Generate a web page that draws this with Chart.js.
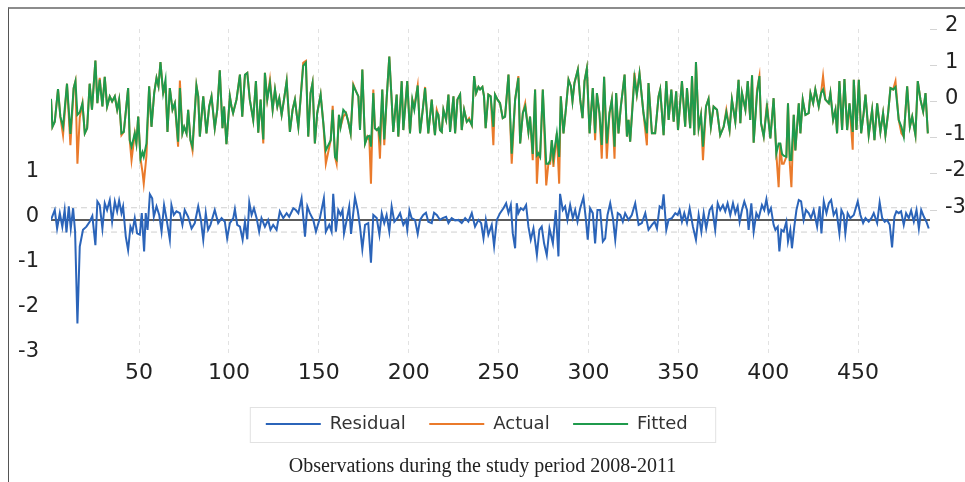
<!DOCTYPE html>
<html>
<head>
<meta charset="utf-8">
<script src="https://cdn.jsdelivr.net/npm/chart.js@4.4.0/dist/chart.umd.min.js"></script>
<style>
  html, body { margin: 0; padding: 0; background: #fff; }
  #wrap { position: relative; width: 965px; height: 482px; overflow: hidden; }
  #frame { position: absolute; left: 8px; top: 7px; width: 990px; height: 500px;
           border-left: 1.5px solid #555; border-top: 2px solid #8c8c8c; pointer-events: none; }
  #caption { position: absolute; left: 0; top: 454px; width: 965px; text-align: center;
             font-family: "Liberation Serif", "Times New Roman", serif; font-size: 20px; color: #222; }
</style>
</head>
<body>
<div id="wrap">
  <canvas id="chart" width="965" height="482"></canvas>
  <div id="frame"></div>
  <div id="caption">Observations during the study period 2008-2011</div>
</div>
<script>
const obsFit = [
  1, 1.8, 3.1, 4.9, 6.2, 7.7, 9.9, 11.8, 13.6, 14.6, 15.7, 17, 18.5, 19.8, 21.1, 22.5, 23.8, 25.7, 26.8, 28.1,
  29.6, 30.9, 32.2, 33.7, 35, 36.5, 37.8, 38.9, 40.2, 41.5, 43.9, 44.8, 45.8, 47.6, 48.5, 49.5, 50.8, 51.9, 52.6, 54.1,
  55.6, 56.9, 58.4, 59.7, 60.8, 61.9, 63.4, 64.7, 65.8, 67.1, 68.6, 69.9, 71.7, 72.7, 74.1, 75.1, 76.4, 77.3, 78.6, 79.7,
  81.9, 82.9, 83.8, 85.7, 87.5, 89, 90.3, 92.1, 93.5, 94.9, 96.4, 97.3, 98.6, 100.5, 101.4, 102.3, 104.2, 106.1, 107.4, 108.9,
  110.2, 111.6, 113.5, 115, 116.3, 117.6, 119.1, 120, 121.3, 122.8, 124.3, 125.6, 126.9, 128, 129.3, 130.6, 132.1, 133, 133.9, 135.4,
  136.7, 137.6, 138.6, 139.8, 141.3, 142.8, 144.1, 145.4, 146.5, 147.8, 149.1, 151, 152.5, 153.9, 156.6, 157.7, 159, 159.9, 161.2, 162.1,
  163.6, 165.1, 166.4, 167.7, 169.2, 170.7, 172, 172.9, 174.2, 175.7, 177, 178.1, 179, 180.3, 181.2, 182.2, 183.1, 184, 185.3, 186.4,
  187.7, 189.2, 190.5, 191.4, 193.3, 194.2, 196.1, 197, 199.2, 200.7, 202, 203.1, 205, 206.3, 207.8, 209.1, 210, 210.9, 212.8, 213.7,
  214.6, 215.6, 216.5, 217.4, 218.4, 219.3, 220.8, 222.1, 223, 224.9, 225.8, 227.1, 228.6, 229.5, 230.8, 232.3, 233.6, 235.1, 236.4, 237.5,
  238.8, 239.7, 241, 241.9, 242.8, 244.3, 245.6, 247.1, 248, 249.4, 250.8, 252.3, 253.6, 255.5, 257.3, 259.2, 261, 262, 263.5, 264.8,
  266.6, 267.5, 269, 270.3, 271.3, 272.2, 273.1, 274.6, 276.5, 277.7, 278.7, 279.6, 280.5, 282.4, 283.7, 284.6, 286.1, 287.4, 288.9, 290.2,
  291.1, 292.2, 294.1, 295.4, 296.7, 297.8, 299.1, 300.6, 302.4, 303.7, 304.7, 306.1, 307.4, 308.7, 310.2, 311.7, 313, 314.5, 315.4, 316.7,
  318, 320.1, 321.4, 322.3, 323.2, 325.6, 326.9, 328.4, 330.6, 332.5, 333.4, 335.3, 337.1, 339, 339.9, 341.8, 343.3, 344.6, 346.1, 347.4,
  348.8, 349.8, 352, 353.8, 354.8, 356.6, 357.6, 358.9, 359.8, 361.3, 362.6, 363.7, 365.4, 366.8, 368.1, 369.6, 371.5, 373.3, 375.2, 376.7,
  378.5, 379.8, 381.7, 383.5, 384.5, 385.4, 387.3, 388.6, 390, 391, 391.9, 393.8, 395.1, 396, 397.5, 399.3, 401.2, 403, 404.5, 405.8,
  406.7, 407.7, 408.6, 410.1, 411, 412, 412.9, 414.2, 415.1, 417, 417.9, 419.2, 420.7, 422.5, 423.5, 425, 426.2, 428.1, 429.4, 430.5,
  431.8, 433.7, 434.6, 436.1, 437.4, 438.3, 439.6, 441.1, 442.4, 443.9, 445.2, 447, 447.6, 449.1, 450.4, 451.7, 453.1, 454.1, 455.9, 457.8,
  459.1, 460.6, 462.4, 463.9, 465.2, 466.7, 468, 469.5, 470.8, 472.6, 474.1, 475.4, 477.3, 478.8, 480.1, 481.9, 483.2, 484.7, 486.2, 487.5,
  488.8
];

const actual = [
  0.07, -0.70, -0.56, 0.34, -0.42, -0.93, 0.49, -1.21, 0.37, 0.56, -1.72, -0.45, -0.05, -0.88, -0.74, 0.49, -0.23, 1.13, -0.05, 0.65,
  -0.14, 0.68, -0.14, 0.14, 0.00, 0.14, -0.23, 0.05, -0.93, -0.84, 0.37, -1.07, -1.62, -0.88, -1.16, -0.42, -1.58, -1.95, -2.27, -1.50,
  0.42, -0.70, 0.23, 0.65, 0.42, 1.09, 0.23, 0.37, -0.84, 0.37, -0.23, -0.05, -1.25, 0.58, -0.88, -0.70, -0.88, -0.23, -1.07, -1.35,
  0.44, 0.14, -0.97, 0.14, -0.88, -0.14, 0.14, -0.74, -0.23, 0.86, -0.74, -0.14, -1.18, 0.14, -0.14, -0.32, 0.05, 0.74, -0.42, 0.74,
  0.79, 0.05, -0.51, 0.56, -0.86, 0.05, -1.16, 0.79, 0.05, 0.60, -0.23, 0.33, -0.14, 0.09, -0.37, 0.05, 0.56, -0.14, -0.84, -0.23,
  0.05, -0.32, -0.70, 0.05, 1.07, 1.12, -0.97, 0.23, 0.51, -1.16, -0.32, 0.19, -0.60, -1.72, -1.07, -0.12, -1.53, -1.72, -0.37, -0.70,
  -0.42, -0.32, -0.56, -0.88, 0.47, 0.28, 0.14, -0.79, 0.88, -1.16, -0.97, -1.07, -2.27, 0.33, -0.74, -0.79, -0.74, -1.58, 0.33, -1.21,
  0.05, 1.24, 0.05, -0.84, 0.19, -0.97, 0.56, -0.79, 0.56, -0.88, 0.05, -0.14, 0.44, -0.88, -0.23, 0.40, -0.23, -0.88, 0.05, -0.51,
  -0.93, -0.23, -0.37, -0.79, -0.84, -0.23, -0.51, 0.19, -0.84, 0.14, -0.88, 0.05, 0.19, -0.79, -0.23, -0.56, -0.46, -0.65, 0.70, 0.23,
  0.40, 0.33, 0.40, 0.14, -0.74, 0.19, 0.14, -1.21, 0.19, 0.05, -0.05, -0.46, -0.42, 0.74, -1.72, 0.05, 0.70, -1.16, -0.32, -0.05,
  -0.84, -0.42, -1.62, 0.33, -2.27, -1.44, -1.53, 0.33, -2.32, -1.72, -1.72, -1.07, -1.81, -0.88, -2.27, 0.14, -0.88, -0.23, 0.60, 0.42,
  0.00, 0.51, 0.88, 0.05, -0.46, 0.56, 0.91, -0.88, 0.37, -1.07, 0.23, -0.32, -1.58, 0.68, -1.58, -0.32, 0.05, -1.58, 0.23, -0.88,
  -0.14, 0.74, -0.97, -0.51, -1.11, 0.79, 0.19, 0.77, -0.32, -1.21, 0.51, -0.88, -0.88, 0.14, 0.33, -0.93, 0.56, -0.51, 0.33, -0.56,
  0.28, -0.79, 0.56, -0.70, 0.37, -0.74, 0.70, -0.93, 1.09, -0.74, -0.37, -1.62, -0.14, 0.07, -0.70, -0.14, -0.23, -0.93, -0.70, -0.23,
  -0.79, 0.05, -0.56, 0.60, -0.60, 0.23, -0.23, 0.56, -0.51, 0.72, -1.14, 0.33, 0.70, -0.60, -0.97, -0.05, -1.02, 0.09, -1.44, -2.37,
  -1.16, -1.72, -1.72, -1.53, -0.05, -1.72, -2.37, -0.37, -1.35, -0.05, -0.88, 0.05, -0.37, -0.32, 0.23, -0.05, 0.33, -0.14, 0.23, 0.70,
  0.05, -0.05, 0.23, -0.51, -0.23, -0.88, 0.56, -0.79, 0.62, -0.79, -0.05, -1.33, 0.60, -0.79, 0.60, -0.88, -0.32, 0.19, -0.93, -0.23,
  -1.07, -0.05, -0.84, -0.32, -0.93, -0.32, 0.37, 0.33, 0.56, -0.51, -0.88, -0.97, 0.42, -0.70, -0.42, -0.93, 0.56, 0.05, -0.28, 0.23,
  -0.88
];

const fitted = [
  0.07, -0.70, -0.56, 0.34, -0.42, -0.70, 0.49, -0.90, 0.37, 0.56, -0.37, -0.30, -0.05, -0.88, -0.74, 0.49, -0.23, 1.13, -0.05, 0.60,
  -0.14, 0.68, -0.14, 0.14, 0.00, 0.14, -0.23, 0.05, -0.88, -0.84, 0.37, -1.07, -1.25, -0.88, -1.16, -0.42, -1.58, -1.40, -1.53, -1.16,
  0.42, -0.70, 0.23, 0.65, 0.42, 1.09, 0.23, 0.60, -0.84, 0.37, -0.23, -0.05, -1.11, 0.37, -0.88, -0.70, -0.88, -0.23, -1.07, -1.25,
  0.44, 0.14, -0.97, 0.14, -0.88, -0.14, 0.14, -0.74, -0.23, 0.86, -0.74, -0.14, -1.18, 0.14, -0.14, -0.32, 0.05, 0.74, -0.42, 0.74,
  0.79, 0.05, -0.51, 0.56, -0.86, 0.05, -1.05, 0.79, 0.05, 0.51, -0.23, 0.33, -0.14, 0.09, -0.37, 0.05, 0.56, -0.14, -0.84, -0.23,
  0.05, -0.32, -0.70, 0.05, 0.98, 1.07, -0.97, 0.23, 0.51, -1.16, -0.32, 0.19, -0.60, -1.35, -1.07, -0.23, -1.53, -1.60, -0.37, -0.70,
  -0.23, -0.32, -0.56, -0.88, 0.44, 0.28, 0.14, -0.79, 0.88, -1.16, -0.97, -0.95, -1.25, 0.23, -0.74, -0.79, -0.74, -1.00, 0.33, -1.05,
  0.05, 1.24, 0.05, -0.84, 0.19, -0.97, 0.56, -0.79, 0.56, -0.88, 0.05, -0.23, 0.44, -0.88, -0.23, 0.37, -0.23, -0.88, 0.05, -0.51,
  -0.93, -0.30, -0.37, -0.79, -0.84, -0.23, -0.51, 0.19, -0.84, 0.14, -0.88, 0.05, 0.19, -0.79, -0.23, -0.56, -0.50, -0.65, 0.70, 0.23,
  0.40, 0.33, 0.40, 0.14, -0.74, 0.19, 0.14, -0.70, 0.19, 0.05, -0.05, -0.46, -0.42, 0.74, -1.44, 0.05, 0.65, -1.16, -0.32, -0.14,
  -0.84, -0.42, -1.45, 0.33, -1.49, -1.44, -1.53, 0.33, -1.72, -1.72, -1.62, -1.07, -1.55, -0.88, -1.53, 0.14, -0.88, -0.23, 0.60, 0.42,
  0.00, 0.51, 0.88, 0.05, -0.46, 0.56, 0.91, -0.88, 0.37, -0.88, 0.23, -0.32, -1.20, 0.68, -1.16, -0.32, 0.05, -1.25, 0.23, -0.88,
  -0.14, 0.74, -0.97, -0.51, -1.11, 0.65, 0.19, 0.77, -0.32, -0.88, 0.51, -0.88, -0.88, 0.14, 0.33, -0.93, 0.56, -0.51, 0.33, -0.56,
  0.28, -0.79, 0.56, -0.70, 0.37, -0.74, 0.70, -0.93, 1.09, -0.74, -0.37, -1.25, -0.14, 0.07, -0.70, -0.14, -0.23, -0.93, -0.70, -0.30,
  -0.79, 0.05, -0.56, 0.60, -0.60, 0.23, -0.23, 0.56, -0.51, 0.72, -1.14, 0.23, 0.70, -0.60, -0.97, -0.15, -1.02, 0.09, -1.44, -1.16,
  -1.16, -1.45, -1.50, -1.53, -0.05, -1.62, -1.62, -0.37, -1.35, -0.05, -0.88, 0.05, -0.37, -0.32, 0.23, -0.05, 0.33, -0.14, 0.23, 0.33,
  0.05, -0.05, 0.23, -0.51, -0.23, -0.88, 0.56, -0.79, 0.62, -0.79, -0.05, -0.84, 0.60, -0.79, 0.60, -0.88, -0.32, 0.19, -0.93, -0.23,
  -1.07, -0.05, -0.84, -0.32, -0.93, -0.32, 0.37, 0.33, 0.40, -0.51, -0.70, -0.97, 0.42, -0.70, -0.42, -0.93, 0.56, 0.05, -0.28, 0.23,
  -0.88
];

// residual series has its own reading positions
const obsRes = [
  1, 3.1, 4.4, 5.9, 7.3, 8.6, 9.6, 10.9, 12, 13.3, 14.4, 15.7, 17, 18.8, 20.7, 22.5, 24, 25.7, 26.8, 28.1,
  29.6, 30.9, 32.2, 33.7, 35, 36.5, 37.8, 38.9, 40.2, 41.1, 42.6, 43.9, 45.2, 46.3, 47.6, 48.9, 50.4, 51.5, 52.8, 53.7,
  54.7, 56, 57.3, 58.2, 59.7, 61.2, 62.5, 63.9, 65.2, 67.1, 68, 69.3, 70.8, 72.7, 74.1, 75.4, 77.3, 79.2, 81, 82.9,
  84.4, 85.7, 87.1, 88.4, 89.7, 92.1, 94, 95.9, 97.7, 99, 100.5, 102.4, 103.3, 104.6, 106.1, 107.6, 108.9, 110.2, 111.3, 112.6,
  113.9, 115.4, 116.8, 118.1, 120, 121.8, 123.1, 124.6, 126.5, 128.3, 130.2, 132.1, 133.5, 135.8, 137.2, 138.6, 140.4, 142.3, 143.6, 145,
  146.9, 148.4, 150.6, 152.8, 153.9, 155.8, 157.1, 158, 159.5, 160.8, 162.1, 163.2, 164, 165.5, 166.9, 167.9, 170.1, 171.6, 172.9, 174.2,
  175.7, 177.5, 179, 180.3, 182.2, 183.7, 185, 186.4, 187.7, 189.2, 190.5, 192, 193.7, 195.2, 197, 198.5, 199.2, 200.4, 201.6, 203.5,
  205, 206.3, 208.1, 209.6, 210.9, 212.8, 214.1, 215.6, 217.4, 218.9, 220.8, 222.1, 223.9, 225.8, 227.6, 229.5, 231.4, 233.2, 235.1, 236.9,
  238.8, 240.3, 241.6, 242.9, 244.3, 246.2, 247.5, 249, 250.8, 252.7, 254.2, 255.5, 256.8, 257.9, 259.2, 260.1, 261, 262.3, 263.8, 265.3,
  266.6, 267.9, 269.4, 271.3, 272.7, 274, 275.3, 276.8, 278.3, 280.2, 281.8, 283.3, 284.2, 285.7, 287, 288.3, 289.8, 291.3, 292.6, 293.9,
  295.4, 297.2, 298.5, 299.6, 300.9, 302.4, 303.7, 305, 306.5, 308, 309.3, 310.6, 312.1, 313.6, 314.9, 316.3, 317.7, 319.1, 320.4, 322.3,
  324.1, 326, 327.9, 329.7, 331.6, 333.4, 335.3, 336.8, 338.1, 339.6, 340.9, 341.8, 343.3, 344.6, 346.4, 348.3, 349.6, 350.7, 352, 353.3,
  354.8, 356.3, 358.1, 359.8, 361.3, 362.8, 364.1, 365.5, 367.4, 368.7, 370.5, 371.9, 373.3, 374.8, 376.1, 377.4, 378.9, 380.4, 381.7, 383,
  384.1, 385.4, 386.7, 388.2, 389.1, 390.6, 391.9, 393.4, 394.7, 396.5, 397.8, 399, 400.2, 401.5, 403, 404, 405.3, 406.2, 407.3, 408.6,
  410.1, 411, 412.3, 413.2, 414.5, 415.7, 417, 418.3, 419.7, 421, 422.5, 423.8, 425.3, 427.2, 428.6, 429.6, 430.9, 432.4, 433.7, 435,
  436.4, 437.9, 439.6, 440.7, 442, 442.9, 444.2, 445.7, 447.6, 449.8, 451.3, 452.8, 454.1, 455.9, 457.4, 458.7, 460.6, 462, 463.4, 464.8,
  466.1, 467.6, 468.9, 470.2, 471.3, 472.6, 473.9, 475.4, 476.7, 478.2, 479.5, 481, 482.5, 483.8, 485.1, 486.6, 488, 489.3
];

const residual = [
  0.00, 0.22, -0.19, 0.15, -0.15, 0.22, -0.28, 0.30, -0.19, 0.26, -0.26, -2.30, -0.59, -0.22, -0.15, -0.04, 0.09, -0.56, 0.41, 0.33,
  -0.19, 0.37, 0.22, 0.44, -0.04, 0.41, 0.19, 0.43, 0.15, 0.30, -0.37, -0.67, -0.15, -0.26, 0.04, -0.30, -0.33, 0.15, -0.70, 0.15,
  -0.22, 0.57, 0.48, 0.07, 0.30, 0.11, -0.26, 0.33, 0.04, -0.44, 0.33, 0.11, 0.19, 0.15, -0.11, 0.22, 0.07, -0.19, -0.07, 0.30,
  0.00, -0.44, 0.15, -0.22, -0.11, 0.22, -0.07, 0.04, -0.04, -0.41, -0.07, 0.04, 0.24, -0.11, -0.15, -0.44, -0.04, -0.43, 0.39, 0.11,
  0.26, 0.04, -0.26, 0.04, -0.15, 0.00, -0.22, -0.11, -0.22, 0.19, 0.04, 0.15, 0.07, 0.26, 0.22, 0.15, 0.48, -0.37, 0.30, 0.15,
  0.00, -0.26, 0.04, 0.48, -0.26, -0.11, -0.26, 0.58, -0.26, 0.22, 0.11, 0.22, -0.30, 0.00, 0.30, -0.31, 0.50, 0.22, -0.15, -0.65,
  -0.11, -0.07, -0.95, 0.11, 0.04, -0.33, 0.15, -0.07, 0.11, -0.26, 0.30, -0.04, 0.04, 0.15, -0.11, 0.00, -0.22, 0.21, 0.04, 0.00,
  -0.31, 0.00, 0.11, 0.16, -0.04, -0.07, 0.16, 0.11, 0.00, 0.04, 0.07, -0.07, 0.04, -0.01, 0.00, -0.07, 0.04, -0.04, 0.15, -0.15,
  0.00, -0.07, -0.41, 0.00, -0.33, -0.11, -0.58, 0.00, 0.15, 0.26, 0.37, 0.15, 0.33, -0.30, -0.63, 0.37, 0.15, 0.26, 0.22, 0.33,
  -0.15, -0.44, -0.19, -0.78, -0.22, -0.15, -0.52, -0.78, -0.19, -0.52, 0.22, -0.81, 0.58, 0.22, 0.30, 0.00, 0.33, 0.04, 0.22, -0.04,
  0.26, 0.50, 0.04, -0.44, 0.26, 0.15, -0.52, 0.22, 0.22, -0.48, -0.41, 0.11, 0.37, 0.04, -0.44, 0.15, 0.11, -0.04, 0.15, 0.00,
  0.11, 0.37, -0.11, -0.07, 0.15, -0.22, -0.11, -0.04, -0.19, 0.30, 0.26, 0.57, -0.22, 0.01, 0.04, 0.15, 0.11, 0.22, -0.04, 0.15,
  -0.07, 0.26, -0.15, -0.44, 0.11, -0.26, 0.15, -0.19, 0.22, 0.30, -0.22, 0.37, 0.22, 0.33, 0.19, 0.37, 0.11, 0.37, 0.15, 0.30,
  -0.04, 0.22, 0.41, 0.22, -0.22, 0.37, -0.26, 0.15, 0.04, 0.33, 0.22, 0.46, 0.15, 0.26, -0.11, -0.22, -0.15, -0.70, -0.22, -0.26,
  -0.04, -0.48, -0.22, -0.63, -0.15, 0.22, 0.44, 0.41, 0.00, 0.22, 0.15, 0.04, 0.22, -0.15, 0.30, -0.30, 0.41, 0.15, 0.37, 0.44,
  0.11, 0.22, -0.30, 0.22, 0.11, -0.30, 0.15, 0.04, 0.11, 0.41, 0.11, -0.07, 0.04, -0.04, 0.04, 0.15, -0.07, 0.39, 0.04, -0.04,
  0.00, -0.11, -0.61, 0.07, 0.19, 0.15, 0.19, -0.11, 0.15, 0.04, 0.21, -0.04, 0.22, -0.19, 0.22, 0.07, -0.04, -0.19
];

const xTicks = [50, 100, 150, 200, 250, 300, 350, 400, 450];
const residualTicks = [-3, -2, -1, 0, 1];
const fittedTicks = [-3, -2, -1, 0, 1, 2];
const residualBand = [0.27, -0.27]; // dashed +/- 1 s.e. lines
const obsRange = [1, 490];

const blue = '#2b64b9';
const orange = '#ea7a2b';
const green = '#1f9a4c';
const tickFont = { family: 'DejaVu Sans', size: 21 };

const toPoints = (xs, ys) => xs.map((x, i) => ({ x: x, y: ys[i] }));
const flatLine = (v) => obsRange.map(x => ({ x: x, y: v }));
const keepTicks = (list) => (scale) => { scale.ticks = list.map(v => ({ value: v })); };

// light frame around the legend items
const legendFrame = {
    id: 'legendFrame',
    afterDraw(chart) {
        const boxes = chart.legend && chart.legend.legendHitBoxes;
        if (!boxes || !boxes.length) return;
        const left = Math.min(...boxes.map(b => b.left)) - 16;
        const right = Math.max(...boxes.map(b => b.left + b.width)) + 16;
        const top = boxes[0].top - 8;
        const bottom = boxes[0].top + boxes[0].height + 9;
        const ctx = chart.ctx;
        ctx.save();
        ctx.strokeStyle = '#e2e2e2';
        ctx.lineWidth = 1;
        ctx.strokeRect(left + 0.5, top + 0.5, right - left, bottom - top);
        ctx.restore();
    }
};

const ctx = document.getElementById('chart').getContext('2d');

new Chart(ctx, {
    type: 'line',
    data: {
        datasets: [
            { label: 'Residual', data: toPoints(obsRes, residual), yAxisID: 'yRes', borderColor: blue, borderWidth: 2, order: 2 },
            { label: 'Actual', data: toPoints(obsFit, actual), yAxisID: 'yFit', borderColor: orange, borderWidth: 2, order: 1 },
            { label: 'Fitted', data: toPoints(obsFit, fitted), yAxisID: 'yFit', borderColor: green, borderWidth: 2, order: 0 },
            { label: 'zero', data: flatLine(0), yAxisID: 'yRes', borderColor: '#5c5c5c', borderWidth: 2, order: 5 },
            { label: 'upper', data: flatLine(residualBand[0]), yAxisID: 'yRes', borderColor: '#cfcfcf', borderWidth: 1, borderDash: [6, 4], order: 6 },
            { label: 'lower', data: flatLine(residualBand[1]), yAxisID: 'yRes', borderColor: '#cfcfcf', borderWidth: 1, borderDash: [6, 4], order: 6 }
        ]
    },
    options: {
        responsive: false,
        animation: false,
        elements: { point: { radius: 0 }, line: { tension: 0 } },
        layout: { padding: { top: 29, bottom: 39, left: 0, right: 0 } },
        scales: {
            x: {
                type: 'linear',
                min: obsRange[0],
                max: obsRange[1],
                afterBuildTicks: keepTicks(xTicks),
                afterFit: (s) => { s.height = 48; },
                grid: { color: '#e2e2e2', drawTicks: false },
                border: { display: false, dash: [4, 4] },
                ticks: { padding: 5, color: '#222', font: { family: 'DejaVu Sans', size: 22 }, maxRotation: 0, autoSkip: false }
            },
            yRes: {
                position: 'left',
                min: -3,
                max: 4.24,
                afterBuildTicks: keepTicks(residualTicks),
                afterFit: (s) => { s.width = 51; },
                grid: { display: false, drawTicks: false },
                border: { display: false },
                ticks: { padding: 12, labelOffset: -3, color: '#222', font: tickFont }
            },
            yFit: {
                position: 'right',
                min: -7,
                max: 2,
                afterBuildTicks: keepTicks(fittedTicks),
                afterFit: (s) => { s.width = 35; },
                grid: { drawOnChartArea: false, tickLength: 7, color: '#d4d4d4' },
                border: { display: false },
                ticks: { padding: 8, labelOffset: -3, color: '#222', font: tickFont }
            }
        },
        plugins: {
            tooltip: { enabled: false },
            legend: {
                position: 'bottom',
                labels: {
                    usePointStyle: true,
                    pointStyleWidth: 55,
                    pointStyle: 'line',
                    padding: 12,
                    color: '#333',
                    font: { family: 'DejaVu Sans', size: 18 },
                    filter: (item) => item.datasetIndex < 3,
                    sort: (a, b) => a.datasetIndex - b.datasetIndex,
                    generateLabels: (chart) => Chart.defaults.plugins.legend.labels.generateLabels(chart)
                        .map(item => Object.assign(item, { text: item.text + '  ' }))
                }
            }
        }
    },
    plugins: [legendFrame]
});
</script>
</body>
</html>
